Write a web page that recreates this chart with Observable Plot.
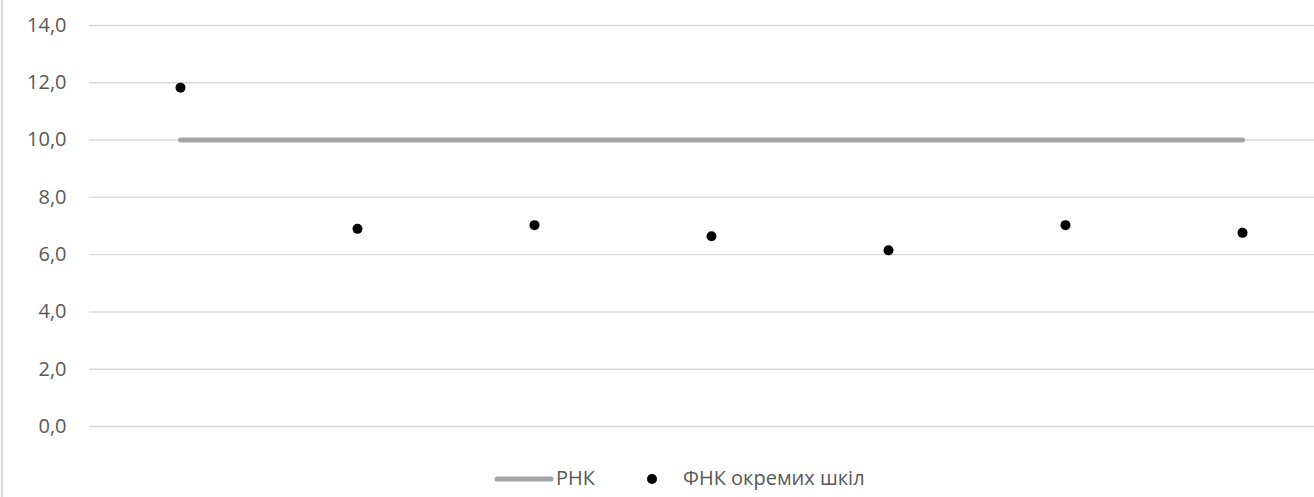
<!DOCTYPE html>
<html>
<head>
<meta charset="utf-8">
<script src="https://cdn.jsdelivr.net/npm/d3@7"></script>
<script src="https://cdn.jsdelivr.net/npm/@observablehq/plot@0.6"></script>
<style>
  html, body { margin: 0; padding: 0; background: #fff; }
  #wrap { position: relative; width: 1314px; height: 497px; overflow: hidden; font-family: "Open Sans", "Liberation Sans", sans-serif; }
  #border { position: absolute; left: 1px; top: 0; width: 2px; height: 497px; background: #d9d9d9; }
  #legend { position: absolute; top: 463px; left: 0; width: 1314px; height: 30px; font-size: 20px; color: #595959; }
  .lg { position: absolute; top: 0; line-height: 30px; white-space: nowrap; }
</style>
</head>
<body>
<div id="wrap">
  <div id="chart"></div>
  <div id="border"></div>
  <div id="legend">
    <svg class="lg" style="left:494px; top:10px" width="60" height="12"><line x1="3" y1="6" x2="57" y2="6" stroke="#a5a5a5" stroke-width="5" stroke-linecap="round"/></svg>
    <span class="lg" style="left:556px">РНК</span>
    <svg class="lg" style="left:645px; top:10px" width="14" height="12"><circle cx="7" cy="6" r="5" fill="#000"/></svg>
    <span class="lg" style="left:683px">ФНК окремих шкіл</span>
  </div>
</div>
<script>
const categories = ["1", "2", "3", "4", "5", "6", "7"];
const rnkValues = [10, 10, 10, 10, 10, 10, 10];
const fnkValues = [11.83, 6.9, 7.03, 6.64, 6.15, 7.03, 6.76];
const yTicks = [0, 2, 4, 6, 8, 10, 12, 14];

const rnk = categories.map((c, i) => ({cat: c, v: rnkValues[i]}));
const fnk = categories.map((c, i) => ({cat: c, v: fnkValues[i]}));

const chart = Plot.plot({
  width: 1314,
  height: 445,
  marginLeft: 89,
  marginRight: 0,
  marginTop: 25,
  marginBottom: 19,
  style: {fontFamily: "'Open Sans', 'Liberation Sans', sans-serif", fontSize: "20px", color: "#595959", background: "#fff"},
  x: {type: "point", domain: categories, range: [178, 1244], padding: 0, axis: null},
  y: {domain: [0, 14], ticks: yTicks, label: null},
  marks: [
    Plot.ruleY(yTicks, {stroke: "#d9d9d9", strokeWidth: 1.4}),
    Plot.axisY(yTicks, {tickSize: 0, tickPadding: 23, label: null, tickFormat: d => d.toFixed(1).replace(".", ","), fill: "#595959"}),
    Plot.lineY(rnk, {x: "cat", y: "v", stroke: "#a5a5a5", strokeWidth: 5, strokeLinecap: "round"}),
    Plot.dot(fnk, {x: "cat", y: "v", r: 5, fill: "#000", stroke: null})
  ]
});
document.getElementById("chart").appendChild(chart);
</script>
</body>
</html>
